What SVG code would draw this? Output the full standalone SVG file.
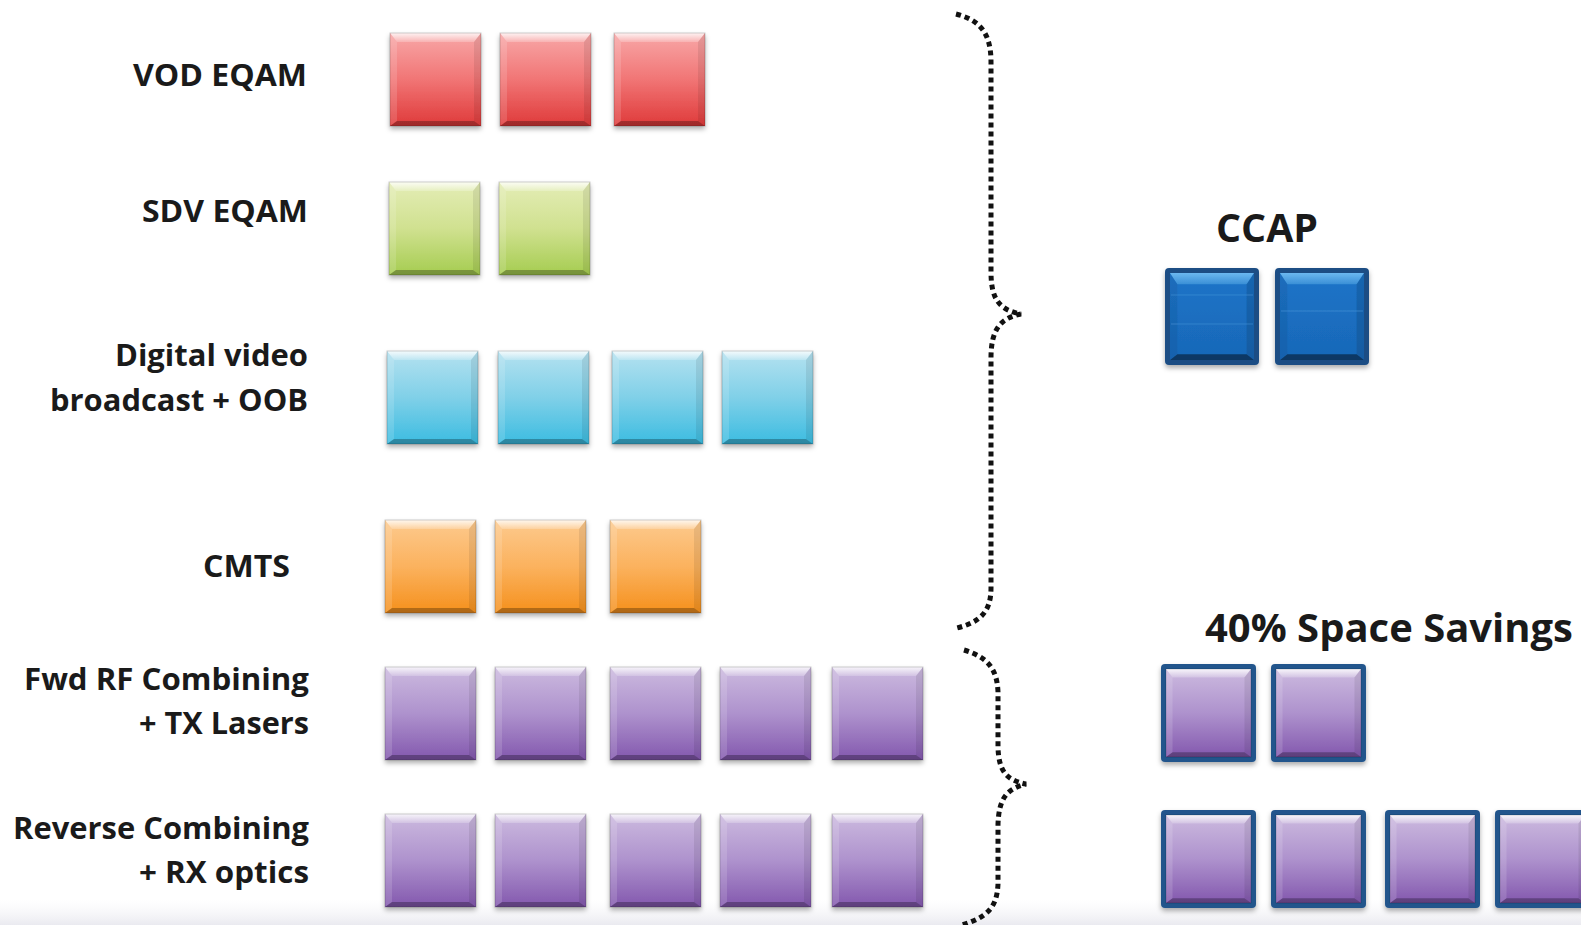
<svg xmlns="http://www.w3.org/2000/svg" xmlns:xlink="http://www.w3.org/1999/xlink" width="1581" height="925" viewBox="0 0 1581 925">
<style>
.lbl{font-family:"Open Sans",Lato,"Liberation Sans",sans-serif;font-weight:700;font-size:30px;fill:#1a1a1a;text-anchor:end}
.ttl{font-family:"Open Sans",Lato,"Liberation Sans",sans-serif;font-weight:700;font-size:40px;fill:#1a1a1a}
.brace{fill:none;stroke:#111;stroke-width:5;stroke-dasharray:5 4}
.box{filter:url(#sh)}
</style>
<defs>
<filter id="sh" x="-20%" y="-20%" width="140%" height="150%">
<feDropShadow dx="0" dy="3" stdDeviation="2.5" flood-color="#000" flood-opacity="0.32"/>
</filter>
<linearGradient id="gRed" x1="0" y1="0" x2="0" y2="1"><stop offset="0" stop-color="#f8a8a8"/><stop offset="0.5" stop-color="#f17575"/><stop offset="1" stop-color="#df3a3a"/></linearGradient>
<linearGradient id="gGrn" x1="0" y1="0" x2="0" y2="1"><stop offset="0" stop-color="#e4edb6"/><stop offset="0.5" stop-color="#d0e190"/><stop offset="1" stop-color="#a5cc50"/></linearGradient>
<linearGradient id="gCya" x1="0" y1="0" x2="0" y2="1"><stop offset="0" stop-color="#b5e2f0"/><stop offset="0.5" stop-color="#80d0e8"/><stop offset="1" stop-color="#3bbce1"/></linearGradient>
<linearGradient id="gOra" x1="0" y1="0" x2="0" y2="1"><stop offset="0" stop-color="#fdca8e"/><stop offset="0.5" stop-color="#fbb25e"/><stop offset="1" stop-color="#f5901c"/></linearGradient>
<linearGradient id="gPur" x1="0" y1="0" x2="0" y2="1"><stop offset="0" stop-color="#ccbadf"/><stop offset="0.5" stop-color="#ae92cd"/><stop offset="1" stop-color="#8358ae"/></linearGradient>
<linearGradient id="gBlu" x1="0" y1="0" x2="0" y2="1"><stop offset="0" stop-color="#1d74c8"/><stop offset="1" stop-color="#1868b8"/></linearGradient>
<linearGradient id="topHi" x1="0" y1="0" x2="0" y2="1"><stop offset="0" stop-color="#fff" stop-opacity="0.85"/><stop offset="1" stop-color="#fff" stop-opacity="0.2"/></linearGradient>
<linearGradient id="topBlu" x1="0" y1="0" x2="0" y2="1"><stop offset="0" stop-color="#6bb8f0"/><stop offset="1" stop-color="#3a8fd6"/></linearGradient>
<linearGradient id="bottomBand" x1="0" y1="0" x2="0" y2="1"><stop offset="0" stop-color="#f4f4f7" stop-opacity="0"/><stop offset="1" stop-color="#eaeaf0"/></linearGradient>
<g id="bev">
<polygon points="0,0 91,0 84,9 7,9" fill="url(#topHi)"/>
<polygon points="0,0 7,9 7,88 0,93" fill="#fff" opacity="0.14"/>
<polygon points="91,0 91,93 84,88 84,9" fill="#000" opacity="0.08"/>
<polygon points="0,93 7,88 84,88 91,93" fill="#000" opacity="0.28"/>
<rect width="91" height="93" fill="none" stroke="#000" stroke-opacity="0.18"/>
</g>
<g id="bevB">
<polygon points="0,0 91,0 83,12 8,12" fill="url(#topBlu)"/>
<polygon points="0,0 8,12 8,87 0,93" fill="#000" opacity="0.06"/>
<polygon points="91,0 91,93 83,87 83,12" fill="#000" opacity="0.12"/>
<polygon points="0,93 8,87 83,87 91,93" fill="#000" opacity="0.45"/>
</g>
<rect id="rRed" width="91" height="93" fill="url(#gRed)"/>
<rect id="rGrn" width="91" height="93" fill="url(#gGrn)"/>
<rect id="rCya" width="91" height="93" fill="url(#gCya)"/>
<rect id="rOra" width="91" height="93" fill="url(#gOra)"/>
<rect id="rPur" width="91" height="93" fill="url(#gPur)"/>
<g id="framedPur">
<rect width="95" height="98" rx="4" fill="#22558c"/>
<g transform="translate(5,5) scale(0.934,0.946)"><use xlink:href="#rPur"/><use xlink:href="#bev"/></g>
</g>
</defs>
<rect width="1581" height="925" fill="#fff"/>
<rect x="0" y="900" width="1581" height="25" fill="url(#bottomBand)"/>

<g id="labels">
<text class="lbl" x="307" y="86" textLength="174" lengthAdjust="spacingAndGlyphs">VOD EQAM</text>
<text class="lbl" x="308" y="222" textLength="166" lengthAdjust="spacingAndGlyphs">SDV EQAM</text>
<text class="lbl" x="308" y="366" textLength="193" lengthAdjust="spacingAndGlyphs">Digital video</text>
<text class="lbl" x="308" y="411" textLength="258" lengthAdjust="spacingAndGlyphs">broadcast + OOB</text>
<text class="lbl" x="290" y="577" textLength="87" lengthAdjust="spacingAndGlyphs">CMTS</text>
<text class="lbl" x="309" y="690" textLength="285" lengthAdjust="spacingAndGlyphs">Fwd RF Combining</text>
<text class="lbl" x="309" y="734" textLength="170" lengthAdjust="spacingAndGlyphs">+ TX Lasers</text>
<text class="lbl" x="309" y="839" textLength="296" lengthAdjust="spacingAndGlyphs">Reverse Combining</text>
<text class="lbl" x="309" y="883" textLength="170" lengthAdjust="spacingAndGlyphs">+ RX optics</text>
</g>

<g id="vod">
<g class="box" transform="translate(390,33)"><use xlink:href="#rRed"/><use xlink:href="#bev"/></g>
<g class="box" transform="translate(500,33)"><use xlink:href="#rRed"/><use xlink:href="#bev"/></g>
<g class="box" transform="translate(614,33)"><use xlink:href="#rRed"/><use xlink:href="#bev"/></g>
</g>
<g id="sdv">
<g class="box" transform="translate(389,182)"><use xlink:href="#rGrn"/><use xlink:href="#bev"/></g>
<g class="box" transform="translate(499,182)"><use xlink:href="#rGrn"/><use xlink:href="#bev"/></g>
</g>
<g id="digital">
<g class="box" transform="translate(387,351)"><use xlink:href="#rCya"/><use xlink:href="#bev"/></g>
<g class="box" transform="translate(498,351)"><use xlink:href="#rCya"/><use xlink:href="#bev"/></g>
<g class="box" transform="translate(612,351)"><use xlink:href="#rCya"/><use xlink:href="#bev"/></g>
<g class="box" transform="translate(722,351)"><use xlink:href="#rCya"/><use xlink:href="#bev"/></g>
</g>
<g id="cmts">
<g class="box" transform="translate(385,520)"><use xlink:href="#rOra"/><use xlink:href="#bev"/></g>
<g class="box" transform="translate(495,520)"><use xlink:href="#rOra"/><use xlink:href="#bev"/></g>
<g class="box" transform="translate(610,520)"><use xlink:href="#rOra"/><use xlink:href="#bev"/></g>
</g>
<g id="fwd">
<g class="box" transform="translate(385,667)"><use xlink:href="#rPur"/><use xlink:href="#bev"/></g>
<g class="box" transform="translate(495,667)"><use xlink:href="#rPur"/><use xlink:href="#bev"/></g>
<g class="box" transform="translate(610,667)"><use xlink:href="#rPur"/><use xlink:href="#bev"/></g>
<g class="box" transform="translate(720,667)"><use xlink:href="#rPur"/><use xlink:href="#bev"/></g>
<g class="box" transform="translate(832,667)"><use xlink:href="#rPur"/><use xlink:href="#bev"/></g>
</g>
<g id="rev">
<g class="box" transform="translate(385,814)"><use xlink:href="#rPur"/><use xlink:href="#bev"/></g>
<g class="box" transform="translate(495,814)"><use xlink:href="#rPur"/><use xlink:href="#bev"/></g>
<g class="box" transform="translate(610,814)"><use xlink:href="#rPur"/><use xlink:href="#bev"/></g>
<g class="box" transform="translate(720,814)"><use xlink:href="#rPur"/><use xlink:href="#bev"/></g>
<g class="box" transform="translate(832,814)"><use xlink:href="#rPur"/><use xlink:href="#bev"/></g>
</g>

<g id="connectors">
<path class="brace" d="M956,14 C979,20 991,32 991,62 L991,272 C991,300 1000,310 1021,314 C1000,318 991,330 991,358 L991,588 C991,612 980,622 957,628"/>
<path class="brace" d="M964,650 C987,657 997,668 998,692 L998,748 C999,771 1006,780 1026,784 C1006,789 999,799 998,824 L998,884 C997,908 987,917 962,925"/>
</g>

<g id="ccap">
<text class="ttl" x="1216" y="242" textLength="102" lengthAdjust="spacingAndGlyphs">CCAP</text>
<g class="box" transform="translate(1165,268)">
<rect width="94" height="97" rx="4" fill="#1d4e84"/>
<g transform="translate(5,5) scale(0.923,0.935)"><rect width="91" height="93" fill="url(#gBlu)"/><use xlink:href="#bevB"/></g>
<line x1="6" y1="27" x2="88" y2="27" stroke="#4a95d8" stroke-width="0.8" opacity="0.7"/>
<line x1="6" y1="56" x2="88" y2="56" stroke="#4a95d8" stroke-width="0.8" opacity="0.7"/>
</g>
<g class="box" transform="translate(1275,268)">
<rect width="94" height="97" rx="4" fill="#1d4e84"/>
<g transform="translate(5,5) scale(0.923,0.935)"><rect width="91" height="93" fill="url(#gBlu)"/><use xlink:href="#bevB"/></g>
<line x1="6" y1="43" x2="88" y2="43" stroke="#4a95d8" stroke-width="0.8" opacity="0.8"/>
</g>
</g>

<g id="savings">
<text class="ttl" x="1205" y="642" textLength="368" lengthAdjust="spacingAndGlyphs">40% Space Savings</text>
<g class="box" transform="translate(1161,664)"><use xlink:href="#framedPur"/></g>
<g class="box" transform="translate(1271,664)"><use xlink:href="#framedPur"/></g>
<g class="box" transform="translate(1161,810)"><use xlink:href="#framedPur"/></g>
<g class="box" transform="translate(1271,810)"><use xlink:href="#framedPur"/></g>
<g class="box" transform="translate(1385,810)"><use xlink:href="#framedPur"/></g>
<g class="box" transform="translate(1495,810)"><use xlink:href="#framedPur"/></g>
</g>
</svg>
